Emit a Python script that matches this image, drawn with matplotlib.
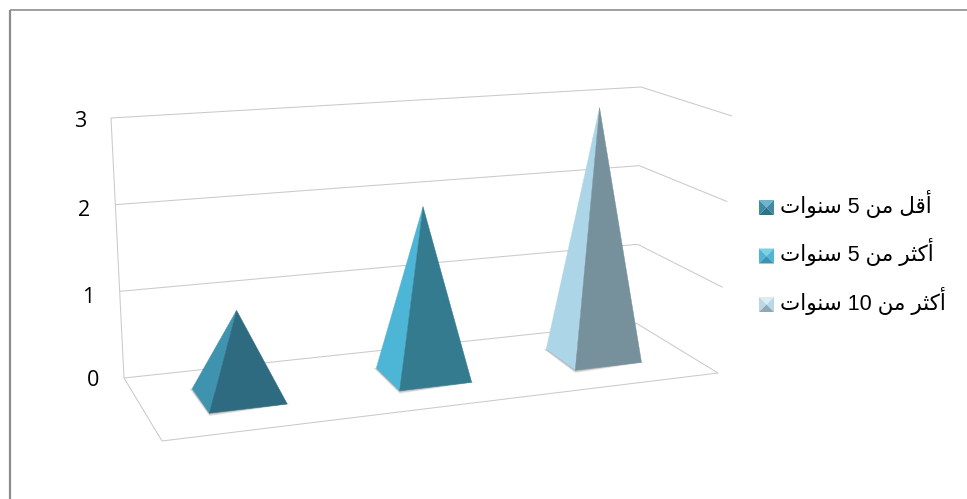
#!/usr/bin/env python3

import numpy as np
import matplotlib
matplotlib.use('Agg')
import matplotlib.pyplot as plt
from matplotlib.patches import Polygon

series = ['أقل من 5 سنوات', 'أكثر من 5 سنوات', 'أكثر من 10 سنوات']
values = [1, 2, 3]
ticks = [0, 1, 2, 3]

light_faces = ['#3f93ae', '#4db5d6', '#acd5e7']
dark_faces = ['#2e6b80', '#347b90', '#76909c']
grid_color = '#cacaca'
label_dy = [2, 6, 6, 3]

# pixel corners of the 3d box: (u, v, z) -> picture
# u left to right, v front to back, z value
BL0, BR0, FL0, FR0 = map(np.array, [(124, 378), (636, 323), (162, 441), (718, 373)])
BL3, BR3, FL3, FR3 = map(np.array, [(111, 118), (641, 87), (150, 179), (732, 116)])
zmax = ticks[-1]


def project(u, v, z):
    floor = (1 - v) * ((1 - u) * FL0 + u * FR0) + v * ((1 - u) * BL0 + u * BR0)
    top = (1 - v) * ((1 - u) * FL3 + u * FR3) + v * ((1 - u) * BL3 + u * BR3)
    return floor + (top - floor) * z / zmax


# category position -> u, slight perspective squeeze towards the right
def cat_u(t):
    return 0.373 * t - 0.0135 * t * t


# matplotlib has no arabic shaping, so pick presentation forms by hand
# letter: isolated, final, initial, medial
forms = {
    'أ': '\ufe83\ufe84', 'ا': '\ufe8d\ufe8e', 'و': '\ufeed\ufeee', 'ر': '\ufead\ufeae',
    'ق': '\ufed5\ufed6\ufed7\ufed8', 'ل': '\ufedd\ufede\ufedf\ufee0',
    'م': '\ufee1\ufee2\ufee3\ufee4', 'ن': '\ufee5\ufee6\ufee7\ufee8',
    'س': '\ufeb1\ufeb2\ufeb3\ufeb4', 'ت': '\ufe95\ufe96\ufe97\ufe98',
    'ك': '\ufed9\ufeda\ufedb\ufedc', 'ث': '\ufe99\ufe9a\ufe9b\ufe9c',
}


def shape_word(word):
    if word[0] not in forms:
        return word
    out = ''
    for i, c in enumerate(word):
        before = i > 0 and len(forms[word[i - 1]]) == 4
        after = i < len(word) - 1 and len(forms[c]) == 4
        out += forms[c][{(0, 0): 0, (1, 0): 1, (0, 1): 2, (1, 1): 3}[(int(before), int(after))]]
    return out[::-1]


def shape(text):
    return ' '.join(shape_word(w) for w in text.split(' ')[::-1])


def draw_pyramid(ax, i, value):
    half = 0.2
    v_front, v_back = 0.33, 0.73
    c = i + 0.5
    left = project(cat_u(c - half), v_back, 0)
    front = project(cat_u(c - half), v_front, 0)
    right = project(cat_u(c + half), v_front, 0)
    apex = project(cat_u(c), (v_front + v_back) / 2, value)
    inner = (left + right) / 2
    # soft shadow along the base only
    for grow, alpha in [(3.0, 0.12), (2.0, 0.18), (1.0, 0.3)]:
        ax.add_patch(Polygon([left + (-grow, 0), front + (0, grow), right + (grow, 0), inner],
                             fc='#555555', ec='none', alpha=alpha, zorder=3))
    ax.add_patch(Polygon([left, front, apex], fc=light_faces[i], ec=light_faces[i], lw=0.3, zorder=4))
    ax.add_patch(Polygon([front, right, apex], fc=dark_faces[i], ec=dark_faces[i], lw=0.3, zorder=4))


def draw_key(ax, x, y, i):
    s = 15
    nw, ne, sw, se = (x, y), (x + s, y), (x, y + s), (x + s, y + s)
    mid = (x + s / 2, y + s / 2)
    top = ['#6fb4c8', '#7fd0e6', '#dcecf3'][i]
    side = ['#3f8ba4', '#4db5d6', '#b9d8e5'][i]
    bottom = ['#2f7187', '#3f93ad', '#8fa8b3'][i]
    ax.add_patch(Polygon([nw, ne, mid], fc=top, ec='none', zorder=4))
    ax.add_patch(Polygon([nw, sw, mid], fc=side, ec='none', zorder=4))
    ax.add_patch(Polygon([ne, se, mid], fc=side, ec='none', zorder=4))
    ax.add_patch(Polygon([sw, se, mid], fc=bottom, ec='none', zorder=4))


def line(ax, a, b, **kw):
    ax.plot([a[0], b[0]], [a[1], b[1]], solid_capstyle='butt', **kw)


def main():
    fig = plt.figure(figsize=(9.67, 4.99), dpi=100)
    ax = fig.add_axes([0, 0, 1, 1])
    ax.set_xlim(0, 967)
    ax.set_ylim(499, 0)
    ax.axis('off')

    # outer chart frame
    line(ax, (10, 10), (967, 10), color='#868686', lw=1.1)
    line(ax, (10, 10), (10, 499), color='#8c8c8c', lw=1.6)

    gl = dict(color=grid_color, lw=0.75, zorder=1)
    for z in ticks:
        line(ax, project(0, 1, z), project(1, 1, z), **gl)
        line(ax, project(1, 1, z), project(1, 0, z), **gl)
        px, py = project(0, 1, z)
        ax.text(px - 31, py + label_dy[z], str(z), fontsize=15.5, family='Open Sans', color='black',
                ha='center', va='center')
    line(ax, project(0, 1, 0), project(0, 1, zmax), **gl)
    line(ax, project(0, 1, 0), project(0, 0, 0), **gl)
    line(ax, project(0, 0, 0), project(1, 0, 0), **gl)

    for i, v in enumerate(values):
        draw_pyramid(ax, i, v)

    for i, name in enumerate(series):
        y = 200 + i * 48.5
        draw_key(ax, 759, y, i)
        ax.text(780, y + 4, shape(name), fontsize=15.5, color='black', ha='left', va='center',
                family=['Liberation Sans', 'DejaVu Sans'])

    fig.savefig('out.png', dpi=100)


if __name__ == "__main__":
    main()
